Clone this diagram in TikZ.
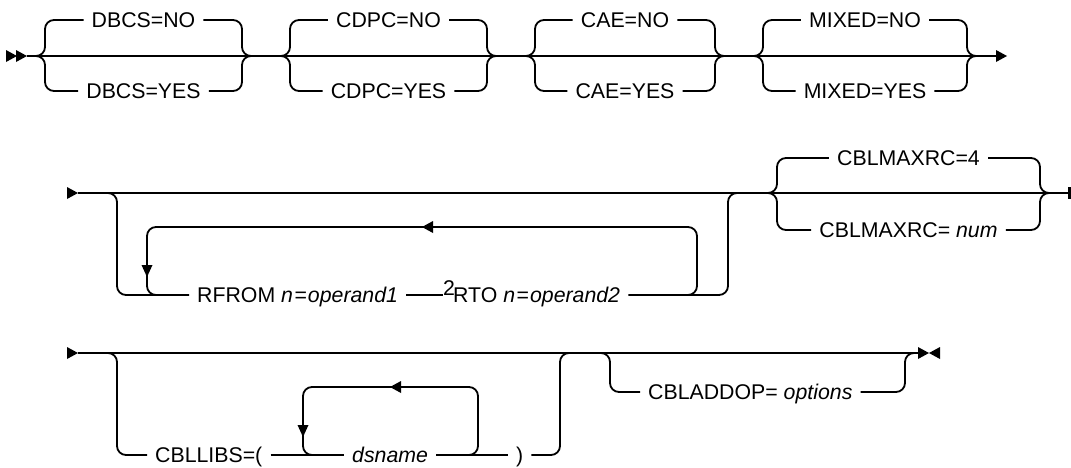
\documentclass[tikz,border=0pt]{standalone}
\usepackage{fontspec}
\setmainfont{Liberation Sans}
\newcommand\railfont{\fontsize{21.3pt}{25pt}\selectfont}
\newcommand\eqsp{\kern1.5pt=\kern1pt}
\tikzset{
  rail/.style={line width=1.8pt, rounded corners=9pt},
  lbl/.style={font=\railfont, inner xsep=8pt, inner ysep=0pt, text height=19pt, text depth=4pt},
  trir/.pic={\fill (0,0) -- (-11,-6) -- (-11,6) -- cycle;},
  tril/.pic={\fill (0,0) -- (11,-6) -- (11,6) -- cycle;},
  trid/.pic={\fill (0,0) -- (-5.5,-12) -- (5.5,-12) -- cycle;},
}
% #1 xl, #2 xr, #3 ymain, #4 ytop, #5 ybot, #6 name, #7 top text, #8 bottom text
\newcommand\brgroup[8]{%
  \node[lbl] (#6t) at ({(#1+#2)/2},#4) {#7\hspace{7pt}};
  \node[lbl] (#6b) at ({(#1+#2)/2},#5) {#8\hspace{7pt}};
  \draw[rail] ({#1-10},#3) -- (#1,#3) -- (#1,#4) -- (#6t.west);
  \draw[rail] (#6t.east) -- (#2,#4) -- (#2,#3) -- ({#2+10},#3);
  \draw[rail] ({#1-10},#3) -- (#1,#3) -- (#1,#5) -- (#6b.west);
  \draw[rail] (#6b.east) -- (#2,#5) -- (#2,#3) -- ({#2+10},#3);
}
\begin{document}
\begin{tikzpicture}[x=1pt,y=-1pt]
\useasboundingbox (0,0) rectangle (1071,467);

% ---------- row 1 ----------
\coordinate (r1s) at (27,56);
\coordinate (r1e) at (996,56);
\pic at (17,56) {trir};
\pic at (27,56) {trir};
\draw[rail] (r1s) -- (r1e);
\pic at (1007,56) {trir};
\brgroup{45}{242}{56}{20}{91}{dbcs}{DBCS=NO}{DBCS=YES}
\brgroup{290}{487}{56}{20}{91}{cdpc}{CDPC=NO}{CDPC=YES}
\brgroup{535}{715}{56}{20}{91}{cae}{CAE=NO}{CAE=YES}
\brgroup{763}{967}{56}{20}{91}{mixed}{MIXED=NO}{MIXED=YES}

% ---------- row 2 ----------
\coordinate (r2s) at (78,193);
\coordinate (r2e) at (1068,193);
\pic at (78,193) {trir};
\draw[rail] (r2s) -- (r2e);
\fill (1068,187) rectangle (1071,199);
\node[lbl, anchor=west] (rfrom) at (189,295) {RFROM \textit{n}\eqsp\textit{operand1}\hspace{7pt}};
\node[font=\railfont, inner sep=0pt, anchor=base west] (fn) at (443,295) {2};
\node[lbl, anchor=west] (rto) at (445,295) {RTO \textit{n}\eqsp\textit{operand2}\hspace{7pt}};
\draw[rail] (100,193) -- (117,193) -- (117,295) -- (rfrom.west);
\draw[rail] (rfrom.east) -- (rfrom.east -| fn.west);
\draw[rail] (rto.east) -- (728,295) -- (728,193) -- (738,193);
\draw[rail] (680,295) -- (697,295) -- (697,227) -- (147,227) -- (147,295) -- (165,295);
\pic at (422,227) {tril};
\pic at (147,277) {trid};
\brgroup{777}{1040}{193}{158}{230}{maxrc}{CBLMAXRC=4}{CBLMAXRC= \textit{num}}

% ---------- row 3 ----------
\coordinate (r3s) at (78,353);
\coordinate (r3e) at (918,353);
\pic at (78,353) {trir};
\draw[rail] (r3s) -- (r3e);
\pic at (929,353) {trir};
\pic at (929,353) {tril};
\node[lbl, anchor=west] (libs) at (147,455) {CBLLIBS=(\hspace{7pt}};
\node[lbl, anchor=west] (ds) at (344,455) {\textit{dsname}\hspace{7pt}};
\node[lbl, anchor=west] (rp) at (508,455) {)};
\draw[rail] (100,353) -- (117,353) -- (117,455) -- (libs.west);
\draw[rail] (libs.east) -- (ds.west);
\draw[rail] (ds.east) -- (rp.west);
\draw[rail] (rp.east) -- (560,455) -- (560,353) -- (570,353);
\draw[rail] (462,455) -- (478,455) -- (478,387) -- (303,387) -- (303,455) -- (320,455);
\pic at (390,387) {tril};
\pic at (303,437) {trid};
\node[lbl, anchor=west] (addop) at (640,392) {CBLADDOP= \textit{options}\hspace{7pt}};
\draw[rail] (592,353) -- (610,353) -- (610,392) -- (addop.west);
\draw[rail] (addop.east) -- (905,392) -- (905,353) -- (915,353);
\end{tikzpicture}
\end{document}
